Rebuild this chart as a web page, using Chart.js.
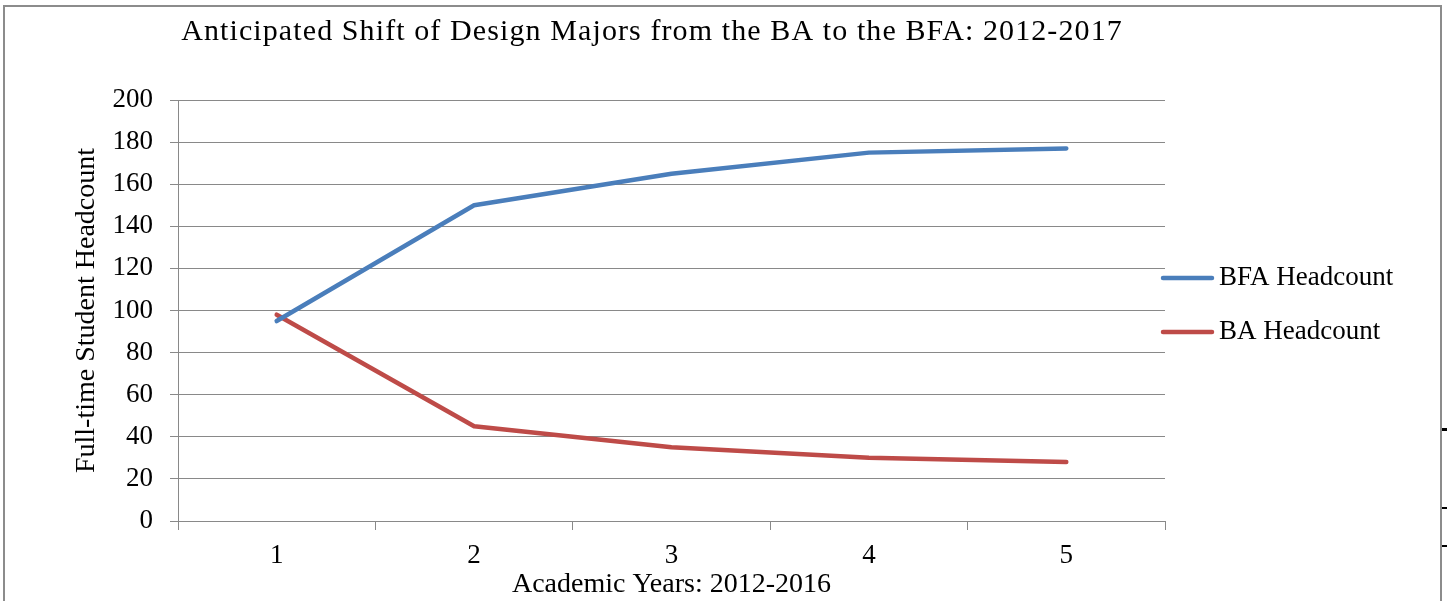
<!DOCTYPE html>
<html>
<head>
<meta charset="utf-8">
<script src="https://cdn.jsdelivr.net/npm/chart.js"></script>
<style>
  html, body { margin: 0; padding: 0; background: #fff; }
  #wrap { position: relative; width: 1447px; height: 601px; overflow: hidden; }
  #frame { position: absolute; left: 3px; top: 5px; width: 1435px; height: 620px;
           border: 2px solid #8c8c8c; border-bottom: none; }
  .nick { position: absolute; left: 1442px; width: 5px; background: #000; }
  canvas { position: absolute; left: 0; top: 0; }
</style>
</head>
<body>
<div id="wrap">
  <div id="frame"></div>
  <div class="nick" style="top:428px;height:3px"></div>
  <div class="nick" style="top:507px;height:2px"></div>
  <div class="nick" style="top:545px;height:2px"></div>
  <canvas id="chart" width="1447" height="601"></canvas>
</div>
<script>
const TITLE = "Anticipated Shift of Design Majors from the BA to the BFA: 2012-2017";
const years = ["1", "2", "3", "4", "5"];
const bfaHeadcount = [95, 150, 165, 175, 177];
const baHeadcount = [98, 45, 35, 30, 28];
const yTicks = [0, 20, 40, 60, 80, 100, 120, 140, 160, 180, 200];

const FONT = "'Liberation Serif', 'Times New Roman', serif";
const GRID = "#898989";

// title + right-hand legend drawn by hand, Excel style
const excelBits = {
    id: "excelBits",
    afterDraw(chart) {
        const ctx = chart.ctx;
        ctx.save();
        ctx.fillStyle = "#000";
        ctx.font = "30px " + FONT;
        ctx.letterSpacing = "1.1px";
        ctx.textAlign = "center";
        ctx.textBaseline = "alphabetic";
        ctx.fillText(TITLE, 652, 40);

        ctx.font = "27px " + FONT;
        ctx.letterSpacing = "0px";
        ctx.textAlign = "left";
        ctx.textBaseline = "middle";
        chart.data.datasets.forEach((ds, i) => {
            const y = 278 + i * 54;
            ctx.strokeStyle = ds.borderColor;
            ctx.lineWidth = 4.5;
            ctx.lineCap = "round";
            ctx.beginPath();
            ctx.moveTo(1163, y);
            ctx.lineTo(1212, y);
            ctx.stroke();
            ctx.fillStyle = "#000";
            ctx.fillText(ds.label, 1219, y);
        });
        ctx.restore();
    }
};

new Chart(document.getElementById("chart"), {
    type: "line",
    data: {
        labels: years,
        datasets: [
            {
                label: "BFA Headcount",
                data: bfaHeadcount,
                borderColor: "#4a7ebb",
                backgroundColor: "#4a7ebb",
                borderWidth: 4.5,
                pointRadius: 0,
                tension: 0,
                borderCapStyle: "round",
                borderJoinStyle: "round",
            },
            {
                label: "BA Headcount",
                data: baHeadcount,
                borderColor: "#be4b48",
                backgroundColor: "#be4b48",
                borderWidth: 4.5,
                pointRadius: 0,
                tension: 0,
                borderCapStyle: "round",
                borderJoinStyle: "round",
            },
        ],
    },
    options: {
        responsive: false,
        animation: false,
        layout: { padding: { left: 58, right: 282, top: 100, bottom: 0 } },
        plugins: {
            legend: { display: false },
            title: { display: false },
            tooltip: { enabled: false },
        },
        scales: {
            x: {
                offset: true,
                grid: { offset: true, drawOnChartArea: false, drawTicks: true, tickLength: 9, color: GRID },
                border: { color: GRID, width: 1 },
                ticks: { color: "#000", font: { family: FONT, size: 27 }, padding: 10 },
                title: {
                    display: true,
                    text: "Academic Years: 2012-2016",
                    color: "#000",
                    font: { family: FONT, size: 28 },
                    padding: { top: 0, bottom: 0 },
                },
                afterFit(scale) { scale.height = 80; },
            },
            y: {
                min: 0,
                max: 200,
                afterBuildTicks(scale) { scale.ticks = yTicks.map(v => ({ value: v })); },
                grid: { color: GRID, lineWidth: 1, tickLength: 8 },
                border: { color: GRID, width: 1 },
                ticks: { color: "#000", font: { family: FONT, size: 27 }, padding: 17 },
                title: {
                    display: true,
                    text: "Full-time Student Headcount",
                    color: "#000",
                    font: { family: FONT, size: 28 },
                    padding: { top: 12, bottom: 0 },
                },
                afterFit(scale) { scale.width = 120; },
            },
        },
    },
    plugins: [excelBits],
});
</script>
</body>
</html>
